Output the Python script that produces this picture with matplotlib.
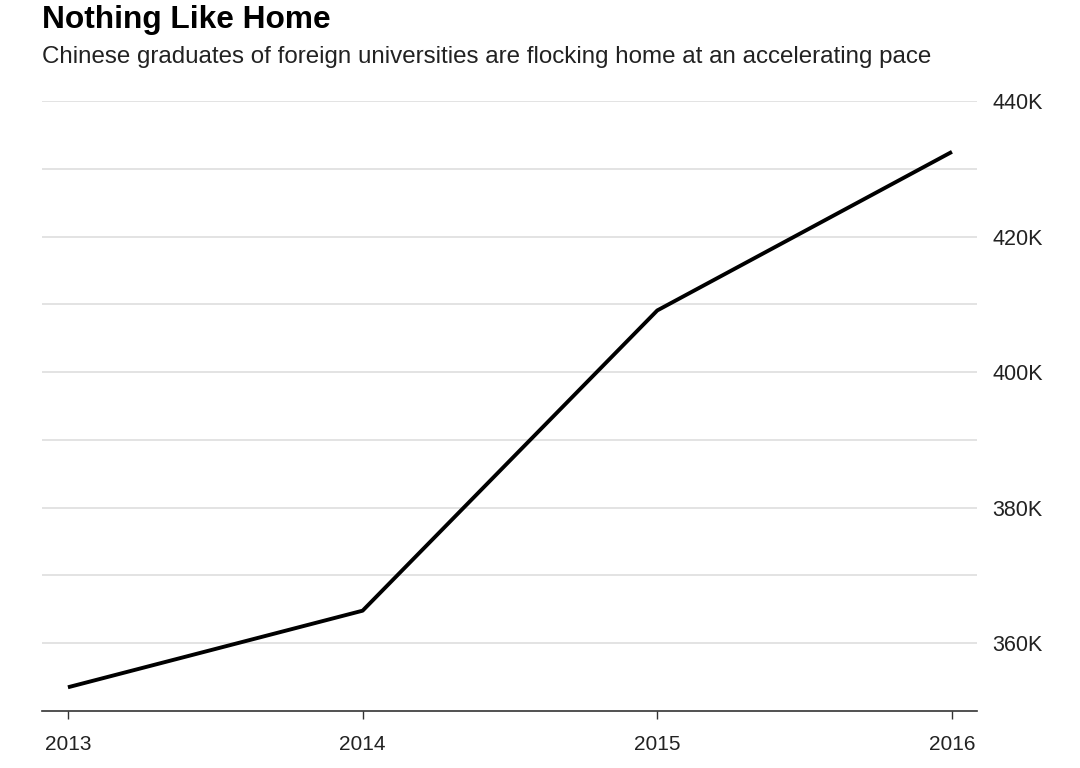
import matplotlib
matplotlib.use("Agg")
import matplotlib.pyplot as plt
from matplotlib.ticker import FixedLocator, FuncFormatter

years = [2013, 2014, 2015, 2016]
graduates_k = [353.5, 364.8, 409.1, 432.5]
grid_ticks = [360, 370, 380, 390, 400, 410, 420, 430, 440]
label_ticks = [360, 380, 400, 420, 440]

plt.rcParams['font.family'] = ['Liberation Sans', 'DejaVu Sans']

fig = plt.figure(figsize=(10.8, 7.68), dpi=100)
ax = fig.add_axes([42/1080, 1-711/768, (977-42)/1080, (711-101)/768])

ax.plot(years, graduates_k, color='black', lw=2.8, solid_capstyle='butt', zorder=3)

ax.set_xlim(2012.912, 2016.085)
ax.set_ylim(350, 440)

for v in grid_ticks:
    ax.axhline(v, color='#e3e3e3', lw=1.4, zorder=1)

ax.yaxis.set_major_locator(FixedLocator(label_ticks))
ax.yaxis.set_major_formatter(FuncFormatter(lambda v, p: f"{int(v)}K"))
ax.yaxis.tick_right()
ax.tick_params(axis='y', length=0, pad=11, labelsize=15.5, labelcolor='#222222')

ax.set_xticks(years)
ax.set_xticklabels([str(y) for y in years])
ax.tick_params(axis='x', length=6, width=1, color='#333333', pad=11, labelsize=15, labelcolor='#222222')

for s in ['top', 'right', 'left']:
    ax.spines[s].set_visible(False)
ax.spines['bottom'].set_color('#333333')
ax.spines['bottom'].set_linewidth(1.2)

fig.text(42/1080, 1-20/768, "Nothing Like Home", fontsize=22.8, fontweight='bold',
         va='center', ha='left', color='black')
fig.text(42/1080, 1-57/768, "Chinese graduates of foreign universities are flocking home at an accelerating pace",
         fontsize=17.4, va='center', ha='left', color='#222222')

fig.savefig("out.png", dpi=100, facecolor='white')
